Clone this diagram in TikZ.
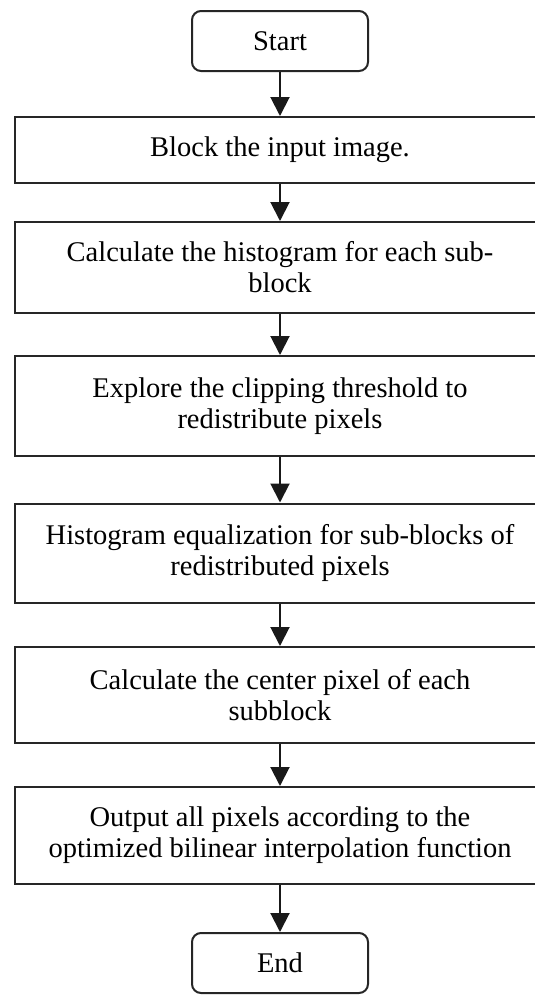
\documentclass[tikz,border=0pt]{standalone}
\usepackage{fontspec}
\setmainfont{Liberation Serif}
\usetikzlibrary{arrows.meta}
\begin{document}
\begin{tikzpicture}[x=1pt,y=1pt,
  box/.style={draw=black!85, line width=2pt, fill=white, minimum width=530pt,
    inner sep=0pt, align=center, font=\fontsize{28.5}{31}\selectfont},
  term/.style={box, minimum width=176pt, minimum height=60pt, rounded corners=9pt},
  arr/.style={line width=2pt, draw=black!90,
    -{Triangle[width=19pt,length=19pt]}}]
\clip (0,0) rectangle (535,-996);
\fill[white] (0,0) rectangle (535,-996);
\node[term] (start) at (280,-41) {Start};
\node[box, minimum height=66pt] (b1) at (280,-150) {Block the input image.};
\node[box, minimum height=91pt] (b2) at (280,-267.5) {Calculate the histogram for each sub-\\block};
\node[box, minimum height=100pt] (b3) at (280,-406) {Explore the clipping threshold to\\redistribute pixels};
\node[box, minimum height=99pt] (b4) at (280,-553) {Histogram equalization for sub-blocks of\\redistributed pixels};
\node[box, minimum height=96pt] (b5) at (280,-695) {Calculate the center pixel of each\\subblock};
\node[box, minimum height=97pt] (b6) at (280,-835.5) {Output all pixels according to the\\optimized bilinear interpolation function};
\node[term] (end) at (280,-963) {End};
\draw[arr] (start) -- (b1);
\draw[arr] (b1) -- (b2);
\draw[arr] (b2) -- (b3);
\draw[arr] (b3) -- (b4);
\draw[arr] (b4) -- (b5);
\draw[arr] (b5) -- (b6);
\draw[arr] (b6) -- (end);
\end{tikzpicture}
\end{document}
